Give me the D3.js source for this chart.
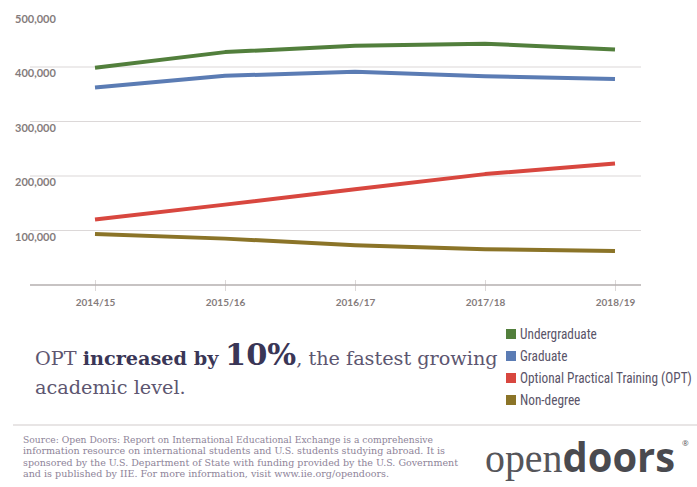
<!DOCTYPE html>
<html>
<head>
<meta charset="utf-8">
<script src="https://cdn.jsdelivr.net/npm/d3@7"></script>
<style>
  body { margin: 0; background: #fff; }
  svg { display: block; }
</style>
</head>
<body>
<svg id="vis" width="697" height="487"></svg>
<script>
const years = ['2014/15', '2015/16', '2016/17', '2017/18', '2018/19']
const undergraduate = [398824, 427313, 439019, 442746, 431930]
const graduate = [362228, 383935, 391124, 382953, 377943]
const opt = [120287, 147498, 175695, 203462, 223085]
const nonDegree = [93587, 85093, 72984, 65631, 62341]
const seriesNames = ['Undergraduate', 'Graduate', 'Optional Practical Training (OPT)', 'Non-degree']
const seriesColors = ['#527f3c', '#5b7cb4', '#d8473f', '#8b7428']
const yTicks = [100000, 200000, 300000, 400000, 500000]
const sourceLines = [
  'Source: Open Doors: Report on International Educational Exchange is a comprehensive',
  'information resource on international students and U.S. students studying abroad.  It is',
  'sponsored by the U.S. Department of State with funding provided by the U.S. Government',
  'and is published by IIE. For more information, visit www.iie.org/opendoors.'
]

const series = [undergraduate, graduate, opt, nonDegree]

const svg = d3.select('#vis')

const x = d3.scalePoint().domain(years).range([95, 615])
const y = d3.scaleLinear().domain([0, 500000]).range([285, 12.5])

// grid
svg.append('g')
  .selectAll('line')
  .data(yTicks.filter(d => d < 500000))
  .enter()
  .append('line')
  .attr('x1', 30).attr('x2', 641)
  .attr('y1', d => y(d)).attr('y2', d => y(d))
  .attr('stroke', '#dcd8d8')
  .attr('stroke-width', 1.2)

svg.append('g')
  .selectAll('text')
  .data(yTicks)
  .enter()
  .append('text')
  .attr('x', 15)
  .attr('y', d => y(d) + 10)
  .attr('font-family', 'Lato, sans-serif')
  .attr('font-weight', 'bold')
  .attr('font-size', 11)
  .attr('fill', '#857c7c')
  .text(d3.format(','))

// x axis
const xAxis = svg.append('g')
  .attr('transform', `translate(0,${y(0)})`)
  .call(d3.axisBottom(x).tickSize(0).tickPadding(0))
xAxis.select('.domain').remove()
xAxis.selectAll('.tick line').remove()
xAxis.selectAll('.tick').append('line')
  .attr('y1', -5).attr('y2', 6)
  .attr('stroke', '#dcd8d8')
xAxis.append('line')
  .attr('x1', 30).attr('x2', 641)
  .attr('stroke', '#b5afaf')
  .attr('stroke-width', 1.5)
xAxis.selectAll('.tick text')
  .attr('y', 21)
  .attr('dy', 0)
  .attr('font-family', 'Lato, sans-serif')
  .attr('font-weight', 'bold')
  .attr('font-size', 10)
  .attr('fill', '#857c7c')

// lines
const line = d3.line()
  .x((d, i) => x(years[i]))
  .y(d => y(d))

svg.append('g')
  .selectAll('path')
  .data(series)
  .enter()
  .append('path')
  .attr('d', line)
  .attr('fill', 'none')
  .attr('stroke', (d, i) => seriesColors[i])
  .attr('stroke-width', 4)
  .attr('stroke-linejoin', 'round')

// legend
const legend = svg.append('g')
const rows = legend.selectAll('g')
  .data(seriesNames)
  .enter()
  .append('g')
  .attr('transform', (d, i) => `translate(506,${334 + i * 22})`)
rows.append('rect')
  .attr('x', 0).attr('y', -5)
  .attr('width', 10).attr('height', 10)
  .attr('fill', (d, i) => seriesColors[i])
const legendText = rows.append('text')
  .attr('x', 14)
  .attr('y', 5)
  .attr('font-family', '"Liberation Sans Narrow", "Roboto Condensed", Roboto, sans-serif')
  .attr('font-stretch', 'condensed')
  .attr('font-size', 15)
  .attr('fill', '#5a5468')
  .text(d => d)
const optLen = legendText.nodes()[2].getComputedTextLength()
const squeeze = 172 / optLen
legendText.attr('transform', `translate(14,0) scale(${squeeze},1) translate(-14,0)`)

// headline
const head = svg.append('g')
const line1 = head.append('text')
  .attr('x', 35).attr('y', 365)
  .attr('font-family', '"DejaVu Serif", serif')
  .attr('font-size', 19)
  .attr('fill', '#5d5670')
line1.append('tspan').text('OPT ')
line1.append('tspan').attr('font-weight', 'bold').attr('fill', '#3a3656').text('increased by ')
line1.append('tspan').attr('font-weight', 'bold').attr('fill', '#3a3656').attr('font-size', 30).text('10%')
line1.append('tspan').text(', the fastest growing')
const line2 = head.append('text')
  .attr('x', 35).attr('y', 394)
  .attr('font-family', '"DejaVu Serif", serif')
  .attr('font-size', 19)
  .attr('fill', '#5d5670')
  .text('academic level.')
const w1 = line1.node().getComputedTextLength()
const hs = 463 / w1
head.attr('transform', `translate(35,0) scale(${hs},1) translate(-35,0)`)

// footer
svg.append('line')
  .attr('x1', 13).attr('x2', 697)
  .attr('y1', 425).attr('y2', 425)
  .attr('stroke', '#e0dcdc')
  .attr('stroke-width', 1.5)

const sourceWidths = [410, 422, 435, 366]
svg.append('g')
  .selectAll('text')
  .data(sourceLines)
  .enter()
  .append('text')
  .attr('x', 23)
  .attr('y', (d, i) => 443 + i * 11.3)
  .attr('font-family', '"DejaVu Serif", serif')
  .attr('font-size', 9.5)
  .attr('fill', '#8e8499')
  .attr('textLength', (d, i) => sourceWidths[i])
  .attr('lengthAdjust', 'spacingAndGlyphs')
  .text(d => d)

const logo = svg.append('text')
  .attr('x', 485).attr('y', 472)
  .attr('font-size', 42)
  .attr('fill', '#4a4a4f')
  .attr('textLength', 190)
  .attr('lengthAdjust', 'spacingAndGlyphs')
logo.append('tspan').attr('font-family', '"Liberation Serif", serif').attr('fill', '#55555a').text('open')
logo.append('tspan').attr('font-family', '"Open Sans", sans-serif').attr('font-weight', 'bold').text('doors')
svg.append('text')
  .attr('x', 682).attr('y', 446)
  .attr('font-family', '"Open Sans", sans-serif')
  .attr('font-size', 8)
  .attr('fill', '#55555a')
  .text('®')
</script>
</body>
</html>
